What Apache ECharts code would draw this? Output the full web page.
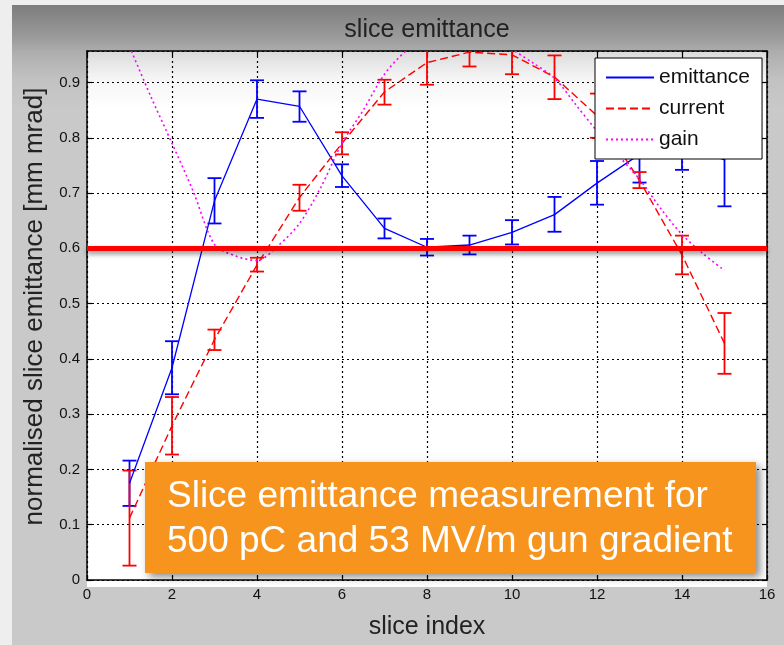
<!DOCTYPE html>
<html>
<head>
<meta charset="utf-8">
<script src="https://cdn.jsdelivr.net/npm/echarts@6/dist/echarts.min.js"></script>
<style>
  html, body { margin: 0; padding: 0; background: #c9c9c9; }
  #chart { width: 784px; height: 645px; }
</style>
</head>
<body>
<div id="chart"></div>
<script>
// Slice index along the bunch
const sliceIndex = [1, 2, 3, 4, 5, 6, 7, 8, 9, 10, 11, 12, 13, 14, 15];

// Normalised slice emittance [mm mrad] with error range
const emittance     = [0.175, 0.384, 0.686, 0.870, 0.857, 0.731, 0.636, 0.602, 0.606, 0.629, 0.661, 0.718, 0.770, 0.790, 0.760];
const emittanceLow  = [0.134, 0.336, 0.645, 0.836, 0.829, 0.711, 0.618, 0.587, 0.589, 0.607, 0.630, 0.679, 0.719, 0.742, 0.676];
const emittanceHigh = [0.216, 0.432, 0.727, 0.904, 0.884, 0.752, 0.654, 0.617, 0.623, 0.651, 0.693, 0.758, 0.820, 0.838, 0.844];

// Normalised slice current with error range
const current     = [0.112, 0.279, 0.435, 0.570, 0.692, 0.790, 0.883, 0.936, 0.955, 0.950, 0.910, 0.840, 0.723, 0.588, 0.428];
const currentLow  = [0.026, 0.227, 0.416, 0.558, 0.668, 0.770, 0.860, 0.896, 0.929, 0.915, 0.870, 0.800, 0.709, 0.553, 0.373];
const currentHigh = [0.198, 0.331, 0.453, 0.583, 0.715, 0.810, 0.905, 0.976, 0.981, 0.981, 0.949, 0.880, 0.738, 0.623, 0.483];

// Normalised gain curve
const gainX = [1, 1.5, 2, 2.5, 3, 3.5, 4, 4.5, 5, 5.5, 6, 6.5, 7, 7.5, 8, 8.5, 9, 9.5, 10, 10.5, 11, 11.5, 12, 12.5, 13, 13.5, 14, 14.5, 15];
const gainY = [0.965, 0.875, 0.790, 0.703, 0.607, 0.586, 0.578, 0.605, 0.645, 0.710, 0.790, 0.850, 0.915, 0.957, 0.985, 1.000, 1.000, 0.985, 0.960, 0.935, 0.908, 0.860, 0.812, 0.768, 0.725, 0.672, 0.625, 0.590, 0.560];

// Target emittance level
const threshold = 0.6;

// Axis ranges and ticks
const xMin = 0, xMax = 16, xStep = 2;
const yMin = 0, yMax = 0.957, yStep = 0.1;

const FONT = '"Liberation Sans", Arial, Helvetica, sans-serif';

const chart = echarts.init(document.getElementById('chart'), null, { renderer: 'canvas' });

function errorBars(name, lows, highs, color) {
  return {
    type: 'custom',
    name: name,
    silent: true,
    z: 3,
    xAxisIndex: 0,
    yAxisIndex: 0,
    data: sliceIndex.map((x, i) => [x, lows[i], highs[i]]),
    encode: { x: 0, y: [1, 2] },
    renderItem: function (params, api) {
      const x = api.value(0);
      const lo = Math.max(api.value(1), yMin);
      const hiRaw = api.value(2);
      const hi = Math.min(hiRaw, yMax);
      const pLo = api.coord([x, lo]);
      const pHi = api.coord([x, hi]);
      const w = 7;
      const style = { stroke: color, lineWidth: 1.8, fill: null };
      const children = [
        { type: 'line', shape: { x1: pLo[0], y1: pLo[1], x2: pHi[0], y2: pHi[1] }, style: style },
        { type: 'line', shape: { x1: pLo[0] - w, y1: pLo[1], x2: pLo[0] + w, y2: pLo[1] }, style: style }
      ];
      if (hiRaw <= yMax) {
        children.push({ type: 'line', shape: { x1: pHi[0] - w, y1: pHi[1], x2: pHi[0] + w, y2: pHi[1] }, style: style });
      }
      return { type: 'group', children: children };
    }
  };
}

const option = {
  animation: false,
  backgroundColor: 'transparent',
  textStyle: { fontFamily: FONT },
  grid: { left: 87, top: 51, right: 17, bottom: 58, containLabel: false },
  graphic: {
    elements: [
      // figure background
      { type: 'rect', z: -20, shape: { x: 0, y: 0, width: 784, height: 645 }, style: { fill: '#c9c9c9' } },
      { type: 'rect', z: -19, shape: { x: 0, y: 0, width: 12, height: 645 }, style: { fill: '#eeeeee' } },
      { type: 'rect', z: -19, shape: { x: 0, y: 0, width: 784, height: 5 }, style: { fill: '#eeeeee' } },
      // plot area
      { type: 'rect', z: -18, shape: { x: 87, y: 51, width: 680, height: 536 }, style: { fill: '#ffffff' } },
      // glossy shading along the top
      {
        type: 'rect', z: -17,
        shape: { x: 12, y: 5, width: 772, height: 105 },
        style: {
          fill: new echarts.graphic.LinearGradient(0, 0, 0, 1, [
            { offset: 0, color: 'rgba(0,0,0,0.38)' },
            { offset: 0.33, color: 'rgba(0,0,0,0.22)' },
            { offset: 0.44, color: 'rgba(0,0,0,0.14)' },
            { offset: 0.7, color: 'rgba(0,0,0,0.04)' },
            { offset: 1, color: 'rgba(0,0,0,0)' }
          ])
        }
      },
      // chart title
      {
        type: 'text', z: 10, x: 427, y: 30,
        style: { text: 'slice emittance', fill: '#222', font: '25px ' + FONT, align: 'center', verticalAlign: 'middle' }
      },
      // annotation box
      {
        type: 'rect', z: 100,
        shape: { x: 145, y: 462, width: 611, height: 111 },
        style: { fill: '#f7941d', shadowBlur: 8, shadowOffsetX: 4, shadowOffsetY: 4, shadowColor: 'rgba(0,0,0,0.45)' }
      },
      {
        type: 'text', z: 101, x: 167, y: 497,
        style: { text: 'Slice emittance measurement for', fill: '#ffffff', font: '37px ' + FONT, align: 'left', verticalAlign: 'middle' }
      },
      {
        type: 'text', z: 101, x: 167, y: 542,
        style: { text: '500 pC and 53 MV/m gun gradient', fill: '#ffffff', font: '37px ' + FONT, align: 'left', verticalAlign: 'middle' }
      }
    ]
  },
  legend: {
    data: ['emittance', 'current', 'gain'],
    orient: 'vertical',
    left: 595,
    top: 58,
    itemWidth: 48,
    itemHeight: 20,
    itemGap: 10,
    padding: [9, 12, 9, 10],
    backgroundColor: '#ffffff',
    borderColor: '#000000',
    borderWidth: 1,
    borderRadius: 0,
    z: 20,
    itemStyle: { opacity: 0 },
    textStyle: { fontSize: 21, color: '#111', fontFamily: FONT }
  },
  xAxis: [
    {
      type: 'value', min: xMin, max: xMax, interval: xStep, position: 'bottom',
      name: 'slice index', nameLocation: 'middle', nameGap: 35,
      nameTextStyle: { fontSize: 25, color: '#222', fontFamily: FONT },
      axisLine: { onZero: false, lineStyle: { color: '#000', width: 1.5 } },
      axisTick: { inside: true, length: 5, lineStyle: { color: '#000', width: 1.2 } },
      axisLabel: { color: '#111', fontSize: 15, margin: 7, fontFamily: FONT },
      splitLine: { show: true, lineStyle: { color: '#000', width: 1.2, type: [2, 3] } }
    },
    {
      type: 'value', min: xMin, max: xMax, interval: xStep, position: 'top',
      axisLine: { onZero: false, lineStyle: { color: '#000', width: 1.5 } },
      axisTick: { inside: true, length: 5, lineStyle: { color: '#000', width: 1.2 } },
      axisLabel: { show: false },
      splitLine: { show: false }
    }
  ],
  yAxis: [
    {
      type: 'value', min: yMin, max: yMax, interval: yStep, position: 'left',
      name: 'normalised slice emittance [mm mrad]', nameLocation: 'middle', nameGap: 39, nameRotate: 90,
      nameTextStyle: { fontSize: 26, color: '#222', fontFamily: FONT, padding: [0, 0, 0, 18] },
      axisLine: { onZero: false, lineStyle: { color: '#000', width: 1.5 } },
      axisTick: { inside: true, length: 5, lineStyle: { color: '#000', width: 1.2 } },
      axisLabel: {
        color: '#111', fontSize: 15, margin: 7, fontFamily: FONT, showMaxLabel: false,
        formatter: v => (Math.abs(v) < 1e-9 ? '0' : v.toFixed(1))
      },
      splitLine: { show: true, lineStyle: { color: '#000', width: 1.2, type: [2, 3] } }
    },
    {
      type: 'value', min: yMin, max: yMax, interval: yStep, position: 'right',
      axisLine: { onZero: false, lineStyle: { color: '#000', width: 1.5 } },
      axisTick: { inside: true, length: 5, lineStyle: { color: '#000', width: 1.2 } },
      axisLabel: { show: false },
      splitLine: { show: false }
    }
  ],
  series: [
    {
      name: 'emittance', type: 'line', xAxisIndex: 0, yAxisIndex: 0, z: 4,
      data: sliceIndex.map((x, i) => [x, emittance[i]]),
      symbol: 'none', showSymbol: false, clip: true,
      color: '#0000ff',
      lineStyle: { color: '#0000ff', width: 1.3, type: 'solid' }
    },
    {
      name: 'current', type: 'line', xAxisIndex: 0, yAxisIndex: 0, z: 4,
      data: sliceIndex.map((x, i) => [x, current[i]]),
      symbol: 'none', showSymbol: false, clip: true,
      color: '#ff0000',
      lineStyle: { color: '#ff0000', width: 1.4, type: [8, 4] }
    },
    {
      name: 'gain', type: 'line', xAxisIndex: 0, yAxisIndex: 0, z: 4,
      data: gainX.map((x, i) => [x, gainY[i]]),
      symbol: 'none', showSymbol: false, clip: true, smooth: 0.3,
      color: '#ff00ff',
      lineStyle: { color: '#ff00ff', width: 1.6, type: [2, 3] }
    },
    errorBars('emittance error', emittanceLow, emittanceHigh, '#0000ff'),
    errorBars('current error', currentLow, currentHigh, '#ff0000'),
    {
      name: 'target', type: 'line', xAxisIndex: 0, yAxisIndex: 0, z: 8,
      data: [],
      markLine: {
        silent: true,
        symbol: ['none', 'none'],
        label: { show: false },
        lineStyle: { color: '#ff0000', width: 5, type: 'solid', shadowColor: 'rgba(0,0,0,0.45)', shadowBlur: 5, shadowOffsetY: 3 },
        data: [{ yAxis: threshold }]
      }
    }
  ]
};

chart.setOption(option);
</script>
</body>
</html>
